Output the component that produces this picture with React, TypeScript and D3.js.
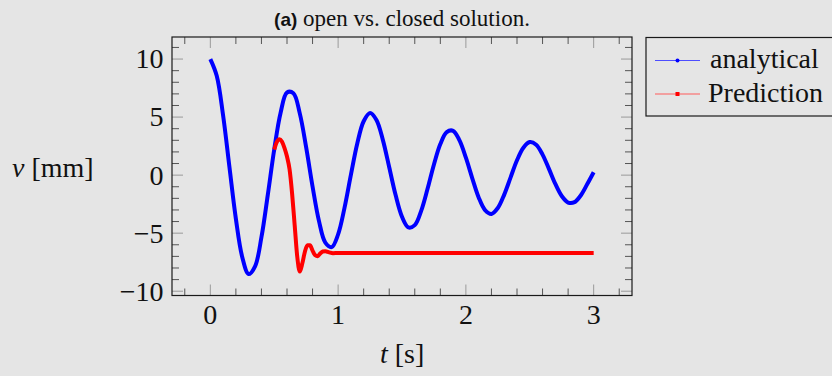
import React from "react";
import * as d3 from "d3";

// Analytical displacement v(t) in mm, sampled every 0.05 s
const analyticalTime = [
  0.0, 0.05, 0.1, 0.15, 0.2, 0.25, 0.3, 0.35, 0.4, 0.45, 0.5, 0.55, 0.6, 0.65, 0.7, 0.75,
  0.8, 0.85, 0.9, 0.95, 1.0, 1.05, 1.1, 1.15, 1.2, 1.25, 1.3, 1.35, 1.4, 1.45, 1.5, 1.55,
  1.6, 1.65, 1.7, 1.75, 1.8, 1.85, 1.9, 1.95, 2.0, 2.05, 2.1, 2.15, 2.2, 2.25, 2.3, 2.35,
  2.4, 2.45, 2.5, 2.55, 2.6, 2.65, 2.7, 2.75, 2.8, 2.85, 2.9, 2.95, 3.0,
];
const analyticalDisp = [
  10.0, 8.56, 5.14, 0.65, -3.77, -7.07, -8.52, -7.86, -5.35, -1.68, 2.21, 5.38, 7.12, 7.06, 5.32, 2.39,
  -0.98, -3.94, -5.81, -6.2, -5.1, -2.82, 0.02, 2.73, 4.64, 5.35, 4.75, 3.04, 0.68, -1.72, -3.59, -4.51,
  -4.31, -3.08, -1.18, 0.92, 2.68, 3.71, 3.82, 2.99, 1.5, -0.27, -1.92, -3.01, -3.34, -2.83, -1.68, -0.19,
  1.28, 2.36, 2.85, 2.62, 1.77, 0.54, -0.76, -1.8, -2.36, -2.33, -1.73, -0.77, 0.25,
];

// Predicted displacement, starting from the analytical state at t = 0.5 s
const predictionTime = [
  0.5, 0.52, 0.54, 0.56, 0.58, 0.6, 0.62, 0.64, 0.66, 0.68, 0.7, 0.72, 0.74, 0.76, 0.78, 0.8,
  0.82, 0.84, 0.86, 0.88, 0.9, 0.93, 0.96, 1.0, 1.5, 2.0, 2.5, 3.0,
];
const predictionDisp = [
  2.2, 2.85, 3.1, 2.9, 2.35, 1.6, 0.5, -1.6, -4.3, -7.0, -8.3, -7.6, -6.6, -6.05, -6.05, -6.5,
  -6.9, -6.98, -6.75, -6.58, -6.55, -6.65, -6.72, -6.7, -6.7, -6.7, -6.7, -6.7,
];

const xTickValues = [0, 1, 2, 3];
const yTickValues = [-10, -5, 0, 5, 10];
const seriesNames = ["analytical", "Prediction"];

const W = 832;
const H = 376;
const plot = { left: 172, right: 632, top: 37, bottom: 295.5 };
const BG = "#e5e5e5";
const BLUE = "#0000ff";
const RED = "#ff0000";
const SERIF = "'Liberation Serif', 'Times New Roman', serif";

export default function App() {
  const x = d3.scaleLinear().domain([-0.3, 3.3]).range([plot.left, plot.right]);
  const y = d3.scaleLinear().domain([-10.37, 11.9]).range([plot.bottom, plot.top]);

  const analytical = analyticalTime.map((t, i) => [t, analyticalDisp[i]] as [number, number]);
  const prediction = predictionTime.map((t, i) => [t, predictionDisp[i]] as [number, number]);

  const blueLine = d3
    .line<[number, number]>()
    .x((d) => x(d[0]))
    .y((d) => y(d[1]))
    .curve(d3.curveCatmullRom.alpha(0.5));
  const redLine = d3
    .line<[number, number]>()
    .x((d) => x(d[0]))
    .y((d) => y(d[1]))
    .curve(d3.curveMonotoneX);

  const xMinor = d3.range(-0.2, 3.21, 0.2).filter((v) => Math.abs(v - Math.round(v)) > 1e-6);
  const yMinor = d3.range(-10, 11.5, 1).filter((v) => v % 5 !== 0);

  const majorLen = 11;
  const minorLen = 7;
  const majorColor = "#9a9a9a";
  const minorColor = "#555";

  return (
    <div style={{ position: "absolute", left: 0, top: 0, width: W, height: H, background: BG }}>
      <svg width={W} height={H} style={{ display: "block" }}>
        <rect x={0} y={0} width={W} height={H} fill={BG} />

        {/* title */}
        <text x={402} y={26} textAnchor="middle" fontFamily={SERIF} fontSize={23} fill="#111">
          <tspan fontFamily="'Liberation Sans', Arial, sans-serif" fontWeight="bold" fontSize={19}>
            (a)
          </tspan>
          <tspan> open vs. closed solution.</tspan>
        </text>

        {/* tick marks */}
        <g strokeWidth={1}>
          {xMinor.map((v) => (
            <g key={"xm" + v} stroke={minorColor}>
              <line x1={x(v)} x2={x(v)} y1={plot.bottom} y2={plot.bottom - minorLen} />
              <line x1={x(v)} x2={x(v)} y1={plot.top} y2={plot.top + minorLen} />
            </g>
          ))}
          {xTickValues.map((v) => (
            <g key={"xM" + v} stroke={majorColor}>
              <line x1={x(v)} x2={x(v)} y1={plot.bottom} y2={plot.bottom - majorLen} />
              <line x1={x(v)} x2={x(v)} y1={plot.top} y2={plot.top + majorLen} />
            </g>
          ))}
          {yMinor.map((v) => (
            <g key={"ym" + v} stroke={minorColor}>
              <line x1={plot.left} x2={plot.left + minorLen} y1={y(v)} y2={y(v)} />
              <line x1={plot.right} x2={plot.right - minorLen} y1={y(v)} y2={y(v)} />
            </g>
          ))}
          {yTickValues.map((v) => (
            <g key={"yM" + v} stroke={majorColor}>
              <line x1={plot.left} x2={plot.left + majorLen} y1={y(v)} y2={y(v)} />
              <line x1={plot.right} x2={plot.right - majorLen} y1={y(v)} y2={y(v)} />
            </g>
          ))}
        </g>

        {/* series */}
        <path d={blueLine(analytical) ?? ""} fill="none" stroke={BLUE} strokeWidth={4} strokeLinejoin="round" />
        <path d={redLine(prediction) ?? ""} fill="none" stroke={RED} strokeWidth={4} strokeLinejoin="round" />

        {/* frame */}
        <rect
          x={plot.left}
          y={plot.top}
          width={plot.right - plot.left}
          height={plot.bottom - plot.top}
          fill="none"
          stroke="#1a1a1a"
          strokeWidth={1.2}
        />

        {/* tick labels */}
        <g fontFamily={SERIF} fontSize={28} fill="#111">
          {xTickValues.map((v) => (
            <text key={"xl" + v} x={x(v)} y={324} textAnchor="middle">
              {v < 0 ? "\u2212" + Math.abs(v) : String(v)}
            </text>
          ))}
          {yTickValues.map((v) => (
            <text key={"yl" + v} x={163.5} y={y(v) + 9.4} textAnchor="end">
              {v < 0 ? "\u2212" + Math.abs(v) : String(v)}
            </text>
          ))}
        </g>

        {/* axis labels */}
        <text x={12} y={177} fontFamily={SERIF} fontSize={28} fill="#111">
          <tspan fontStyle="italic">v</tspan>
          <tspan> [mm]</tspan>
        </text>
        <text x={380} y={363} fontFamily={SERIF} fontSize={28} fill="#111">
          <tspan fontStyle="italic">t</tspan>
          <tspan> [s]</tspan>
        </text>

        {/* legend */}
        <rect x={646} y={37.5} width={200} height={78.5} fill={BG} stroke="#1a1a1a" strokeWidth={1.2} />
        <line x1={655} x2={700} y1={60.5} y2={60.5} stroke="#4d4dff" strokeWidth={1.2} />
        <circle cx={677.5} cy={60.5} r={2} fill={BLUE} />
        <line x1={655} x2={700} y1={94} y2={94} stroke="#ff5c5c" strokeWidth={1.2} />
        <rect x={675.5} y={92} width={4} height={4} fill={RED} />
        <text x={710} y={67.5} fontFamily={SERIF} fontSize={28} fill="#111">
          {seriesNames[0]}
        </text>
        <text x={708} y={102} fontFamily={SERIF} fontSize={28} fill="#111">
          {seriesNames[1]}
        </text>
      </svg>
    </div>
  );
}
